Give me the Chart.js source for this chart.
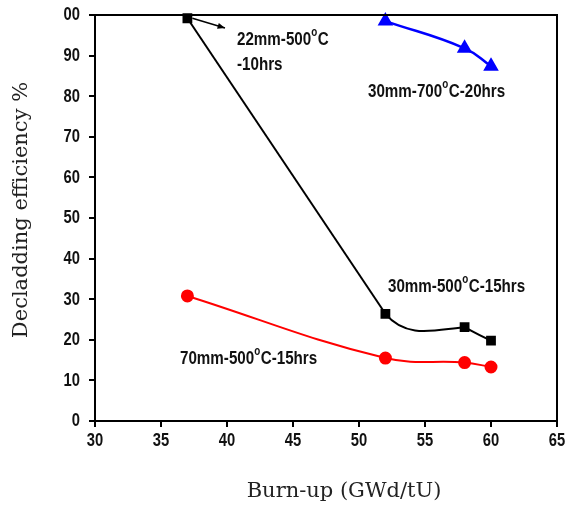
<!DOCTYPE html>
<html><head><meta charset="utf-8">
<script src="https://cdn.jsdelivr.net/npm/chart.js@4"></script>
<style>html,body{margin:0;padding:0;background:#fff}#wrap{width:567px;height:508px}</style>
</head><body><div id="wrap"><canvas id="c" width="567" height="508"></canvas></div>
<script>
const xTicks = [30,35,40,45,50,55,60,65];
const yTicks = [0,10,20,30,40,50,60,70,80,90,100];
const yTickLabels = ['0','10','20','30','40','50','60','70','80','90','00'];
const xTitle = 'Burn-up (GWd/tU)';
const yTitle = 'Decladding efficiency %';
const burnupB = [37,52,58,60];
const black30 = [99.2,26.4,23.1,19.8];
const burnupBlue = [52,58,60];
const blue700 = [98.5,91.8,87.4];
const burnupRed = [37,52,58,60];
const red70 = [30.8,15.5,14.4,13.3];
const labels = [
  {parts:[["22mm-500",0],["o",1],["C",0]], x:237, y:40},
  {parts:[["-10hrs",0]], x:237, y:65},
  {parts:[["30mm-700",0],["o",1],["C-20hrs",0]], x:368, y:92},
  {parts:[["30mm-500",0],["o",1],["C-15hrs",0]], x:388, y:287},
  {parts:[["70mm-500",0],["o",1],["C-15hrs",0]], x:180, y:359}
];

const pts = (xs, ys) => xs.map((x,i)=>({x, y:ys[i]}));
const SX = 0.82;

function scaledText(ctx, t, x, y, size, align){
  ctx.save();
  ctx.font = 'bold ' + size + 'px "Liberation Sans"';
  const w = ctx.measureText(t).width * SX;
  let left = x;
  if (align === 'right') left = x - w;
  else if (align === 'center') left = x - w/2;
  ctx.translate(left, y);
  ctx.scale(SX, 1);
  ctx.textAlign = 'left';
  ctx.fillText(t, 0, 0);
  ctx.restore();
  return w;
}

// smoothing shape (tangent handles, px offsets) for the black curve after its 2nd point
const handles = {1:{cp2:[22,26]}, 2:{cp1:[-28,2], cp2:[9,5]}, 3:{cp1:[-9,-4]}};
const smoothing = {
  id:'smoothing',
  beforeDatasetsDraw(chart){
    const meta = chart.getDatasetMeta(0);
    for (const k in handles){
      const p = meta.data[k], h = handles[k];
      if (!p) continue;
      if (h.cp1){ p.cp1x = p.x + h.cp1[0]; p.cp1y = p.y + h.cp1[1]; }
      if (h.cp2){ p.cp2x = p.x + h.cp2[0]; p.cp2y = p.y + h.cp2[1]; }
    }
  }
};

const overlay = {
  id:'overlay',
  afterDatasetsDraw(chart){
    const {ctx, chartArea:a, scales} = chart;
    ctx.save();
    ctx.strokeStyle='#000'; ctx.lineWidth=2;
    ctx.strokeRect(a.left, a.top, a.right-a.left, a.bottom-a.top);
    // arrow from first black point
    const x0 = scales.x.getPixelForValue(37)+5, y0 = scales.y.getPixelForValue(99.2);
    const x1 = 225, y1 = 28;
    ctx.lineWidth=1.5;
    ctx.beginPath(); ctx.moveTo(x0,y0); ctx.lineTo(x1,y1); ctx.stroke();
    const ang = Math.atan2(y1-y0, x1-x0);
    ctx.beginPath();
    ctx.moveTo(x1,y1);
    ctx.lineTo(x1-8*Math.cos(ang-0.4), y1-8*Math.sin(ang-0.4));
    ctx.lineTo(x1-8*Math.cos(ang+0.4), y1-8*Math.sin(ang+0.4));
    ctx.closePath(); ctx.fillStyle='#000'; ctx.fill();
    // tick labels
    ctx.fillStyle='#111'; ctx.textBaseline='middle';
    yTicks.forEach((v,i)=>{
      scaledText(ctx, yTickLabels[i], 80, scales.y.getPixelForValue(v)+0.5, 18, 'right');
    });
    xTicks.forEach(v=>{
      scaledText(ctx, String(v), scales.x.getPixelForValue(v), 441, 18, 'center');
    });
    // annotations
    for (const l of labels){
      let x = l.x;
      for (const [t,sup] of l.parts){
        x += scaledText(ctx, t, x, sup ? l.y-7 : l.y, sup ? 12 : 18.5, 'left') + (sup?0.5:0);
      }
    }
    // axis titles
    ctx.fillStyle='#222';
    ctx.font = '21px "DejaVu Serif"';
    ctx.textAlign='center'; ctx.textBaseline='middle';
    ctx.fillText(xTitle, 344, 492);
    ctx.save();
    ctx.translate(22, 210);
    ctx.rotate(-Math.PI/2);
    ctx.fillText(yTitle, 0, 0);
    ctx.restore();
    ctx.restore();
  }
};

new Chart(document.getElementById('c'), {
  type:'line',
  data:{datasets:[
    {data:pts(burnupB, black30), borderColor:'#000', backgroundColor:'#000', borderWidth:2, pointStyle:'rect', pointRadius:5.5, tension:0.45,
      segment:{borderColor: c => c.p0DataIndex===0 ? 'rgba(0,0,0,0)' : '#000'}},
    {data:pts(burnupB.slice(0,2), black30.slice(0,2)), borderColor:'#000', borderWidth:2, pointRadius:0, tension:0},
    {data:pts(burnupBlue, blue700), borderColor:'#0000ff', backgroundColor:'#0000ff', borderWidth:2.5, pointStyle:'triangle', pointRadius:6.5, tension:0.45},
    {data:pts(burnupRed, red70), borderColor:'#ff0000', backgroundColor:'#ff0000', borderWidth:2, pointStyle:'circle', pointRadius:5.5, tension:0.4}
  ]},
  options:{
    responsive:false, animation:false, clip:false,
    layout:{padding:{top:15, right:10, left:0, bottom:0}},
    plugins:{legend:{display:false}, tooltip:{enabled:false}},
    scales:{
      x:{type:'linear', min:30, max:65,
        afterBuildTicks(s){ s.ticks = xTicks.map(v=>({value:v})); },
        afterFit(s){ s.height = 87; },
        grid:{drawOnChartArea:false, drawTicks:true, tickLength:6, color:'#000', lineWidth:2},
        border:{display:true, color:'#000', width:2},
        ticks:{display:false},
        title:{display:false}
      },
      y:{min:0, max:100,
        afterBuildTicks(s){ s.ticks = yTicks.map(v=>({value:v})); },
        afterFit(s){ s.width = 95; },
        grid:{drawOnChartArea:false, drawTicks:true, tickLength:6, color:'#000', lineWidth:2},
        border:{display:true, color:'#000', width:2},
        ticks:{display:false},
        title:{display:false}
      }
    }
  },
  plugins:[smoothing, overlay]
});
</script></body></html>
